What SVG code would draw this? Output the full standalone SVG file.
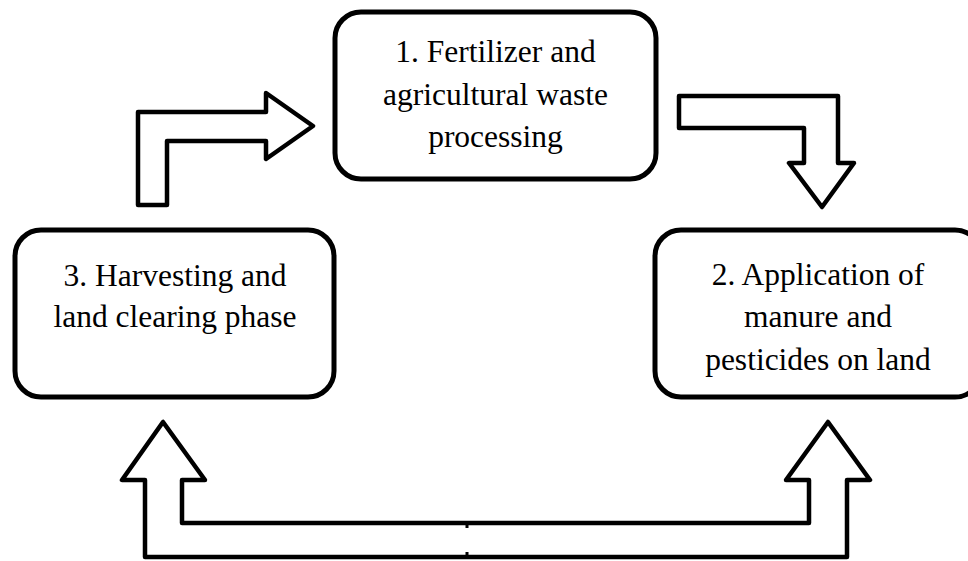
<svg xmlns="http://www.w3.org/2000/svg" width="968" height="561" viewBox="0 0 968 561">
<style>
.box{fill:#fff;stroke:#000;stroke-width:5}
.lbl{font-family:"Liberation Serif","Times New Roman",serif;font-size:31.5px;fill:#000;text-anchor:middle}
.arr{fill:#fff;stroke:#000;stroke-width:4.5;stroke-linejoin:round}
</style>
<rect width="968" height="561" fill="#fff"/>
<g id="connectors">
<polygon class="arr" points="138,205 138,112 266,112 266,93 313,126 266,159 266,141 167,141 167,205"/>
<polygon class="arr" points="679,96 838,96 838,163 854,163 822,207 789,163 804,163 804,128 679,128"/>
<path class="arr" d="M467,523 L182,523 L182,480 L205,480 L163,422 L122,480 L145,480 L145,557 L467,557"/>
<path class="arr" d="M467,523 L809,523 L809,480 L786,480 L828,422 L870,480 L847,480 L847,557 L467,557"/>
<path d="M467,523 V528 M467,552 V557" stroke="#000" stroke-width="3" fill="none"/>
</g>
<g id="node1">
<rect class="box" x="335" y="12" width="321" height="167" rx="26"/>
<text class="lbl" x="495.5" y="62">1. Fertilizer and</text>
<text class="lbl" x="495.5" y="105">agricultural waste</text>
<text class="lbl" x="495.5" y="147">processing</text>
</g>
<g id="node2">
<rect class="box" x="655" y="230" width="326" height="167" rx="26"/>
<text class="lbl" x="818" y="285">2. Application of</text>
<text class="lbl" x="818" y="327">manure and</text>
<text class="lbl" x="818" y="370">pesticides on land</text>
</g>
<g id="node3">
<rect class="box" x="15" y="230" width="319" height="167" rx="26"/>
<text class="lbl" x="175" y="286">3. Harvesting and</text>
<text class="lbl" x="175" y="327">land clearing phase</text>
</g>
</svg>
